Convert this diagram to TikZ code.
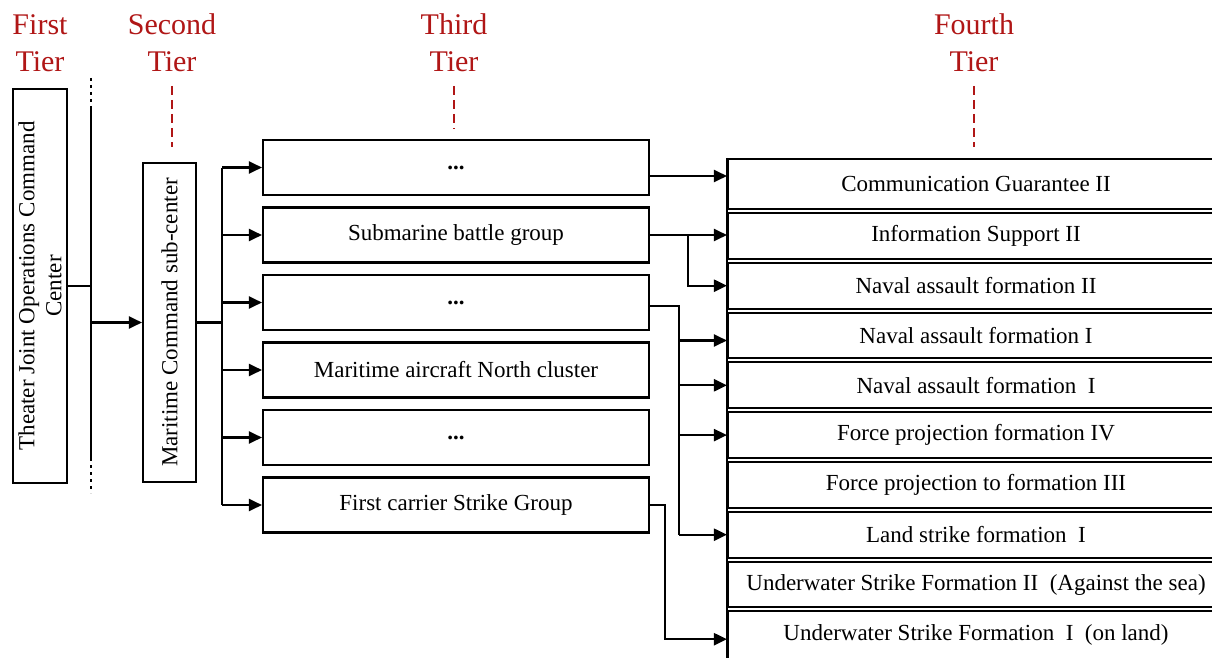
\documentclass[tikz,border=0pt]{standalone}
\usepackage{fontspec}
\setmainfont{Liberation Serif}
\usetikzlibrary{arrows.meta}
\definecolor{tierred}{RGB}{176,22,22}
\begin{document}
\begin{tikzpicture}[x=1pt,y=-1pt,
  every node/.style={font=\fontsize{23}{27}\selectfont},
  box/.style={draw,line width=2.1pt,inner sep=0pt,align=center},
  tbox/.style={box,minimum width=386pt,minimum height=55pt},
  fbox/.style={box,minimum width=496pt},
  tier/.style={text=tierred,font=\fontsize{30}{37}\selectfont,align=center,inner sep=0pt},
  tdash/.style={draw=tierred,line width=2.4pt,dash pattern=on 9pt off 5pt},
  conn/.style={line width=2.3pt},
  dotln/.style={line width=2.4pt,dash pattern=on 3pt off 4pt},
  arr/.style={conn,-{Triangle[length=13pt,width=12pt]}},
]
\clip (0,0) rectangle (1212,658);

% tier labels
\node[tier] (l1) at (40,43) {First\\Tier};
\node[tier] (l2) at (172,43) {Second\\Tier};
\node[tier] (l3) at (454,43) {Third\\Tier};
\node[tier] (l4) at (974,43) {Fourth\\Tier};
\draw[tdash] (l2.south |- 0,86) -- (l2.south |- 0,147);
\draw[tdash] (l3.south |- 0,86) -- (l3.south |- 0,129);
\draw[tdash] (l4.south |- 0,86) -- (l4.south |- 0,147);

% first and second tier
\node[box,rotate=90,minimum width=394pt,minimum height=54pt] (t1) at (40,286)
  {Theater Joint Operations Command\\Center};
\node[box,rotate=90,minimum width=319pt,minimum height=53pt] (t2) at (169.5,322.5)
  {Maritime Command sub-center};

\coordinate (vt) at (91,108);
\coordinate (vb) at (91,461);
\draw[conn] (vt) -- (vb);
\draw[dotln] (vt |- 0,78) -- (vt);
\draw[dotln] (vb |- 0,465) -- (vb |- 0,493);
\draw[conn] (t1.south) -- (t1.south -| vt);
\draw[arr] (vt |- t2.north) -- (t2.north);

% third tier
\node[tbox] (A) at (456,167.5) {\textbf{...}};
\node[tbox] (B) at (456,235) {Submarine battle group};
\node[tbox] (C) at (456,302.5) {\textbf{...}};
\node[tbox] (D) at (456,370) {Maritime aircraft North cluster};
\node[tbox] (E) at (456,437.5) {\textbf{...}};
\node[tbox] (F) at (456,505) {First carrier Strike Group};

\coordinate (tr) at (222,0);
\draw[conn] (t2.south) -- (t2.south -| tr);
\draw[conn] (tr |- A.west) -- (tr |- F.west);
\foreach \n in {A,B,C,D,E,F} {\draw[arr] (tr |- \n.west) -- (\n.west);}

% fourth tier
\node[fbox,minimum height=50pt] (r1) at (976,184) {Communication Guarantee II};
\node[fbox,minimum height=45.8pt] (r2) at (976,235.9) {Information Support II};
\node[fbox,minimum height=45.8pt] (r3) at (976,285.7) {Naval assault formation II};
\node[fbox,minimum height=45.8pt] (r4) at (976,335.5) {Naval assault formation I};
\node[fbox,minimum height=45.8pt] (r5) at (976,385.3) {Naval assault formation\ \ I};
\node[fbox,minimum height=45.8pt] (r6) at (976,435.1) {Force projection formation IV};
\node[fbox,minimum height=45.8pt] (r7) at (976,484.9) {Force projection to formation III};
\node[fbox,minimum height=45.8pt] (r8) at (976,534.7) {Land strike formation\ \ I};
\node[fbox,minimum height=45.8pt] (r9) at (976,584.5) {Underwater Strike Formation II\ \ (Against the sea)};
\node[fbox,minimum height=49.6pt] (r10) at (976,636.2) {\raisebox{8pt}{Underwater Strike Formation\ \ I\ \ (on land)}};
\draw[conn] (r1.north west) -- (r10.south west);

% A -> r1
\path ([yshift=-8.5pt]A.east) coordinate (a1);
\draw[arr] (a1) -- (a1 -| r1.west);
% B -> r2, r3
\coordinate (bj) at (688,0);
\draw[arr] (B.east) -- (B.east -| r2.west);
\draw[arr] (bj |- B.east) |- (r3.west);
% C -> r4, r5, r6, r8
\coordinate (cj) at (679,0);
\path ([yshift=-3.5pt]C.east) coordinate (c0);
\path ([yshift=-5pt]r4.west) coordinate (r4a);
\draw[conn] (c0) -- (c0 -| cj) -- (cj |- r8.west);
\draw[arr] (cj |- r4a) -- (r4a);
\draw[arr] (cj |- r5.west) -- (r5.west);
\draw[arr] (cj |- r6.west) -- (r6.west);
\draw[arr] (cj |- r8.west) -- (r8.west);
% F -> r10
\coordinate (fj) at (665,0);
\path ([yshift=-3pt]r10.west) coordinate (r10a);
\draw[arr] (F.east) -- (F.east -| fj) |- (r10a);
\end{tikzpicture}
\end{document}
